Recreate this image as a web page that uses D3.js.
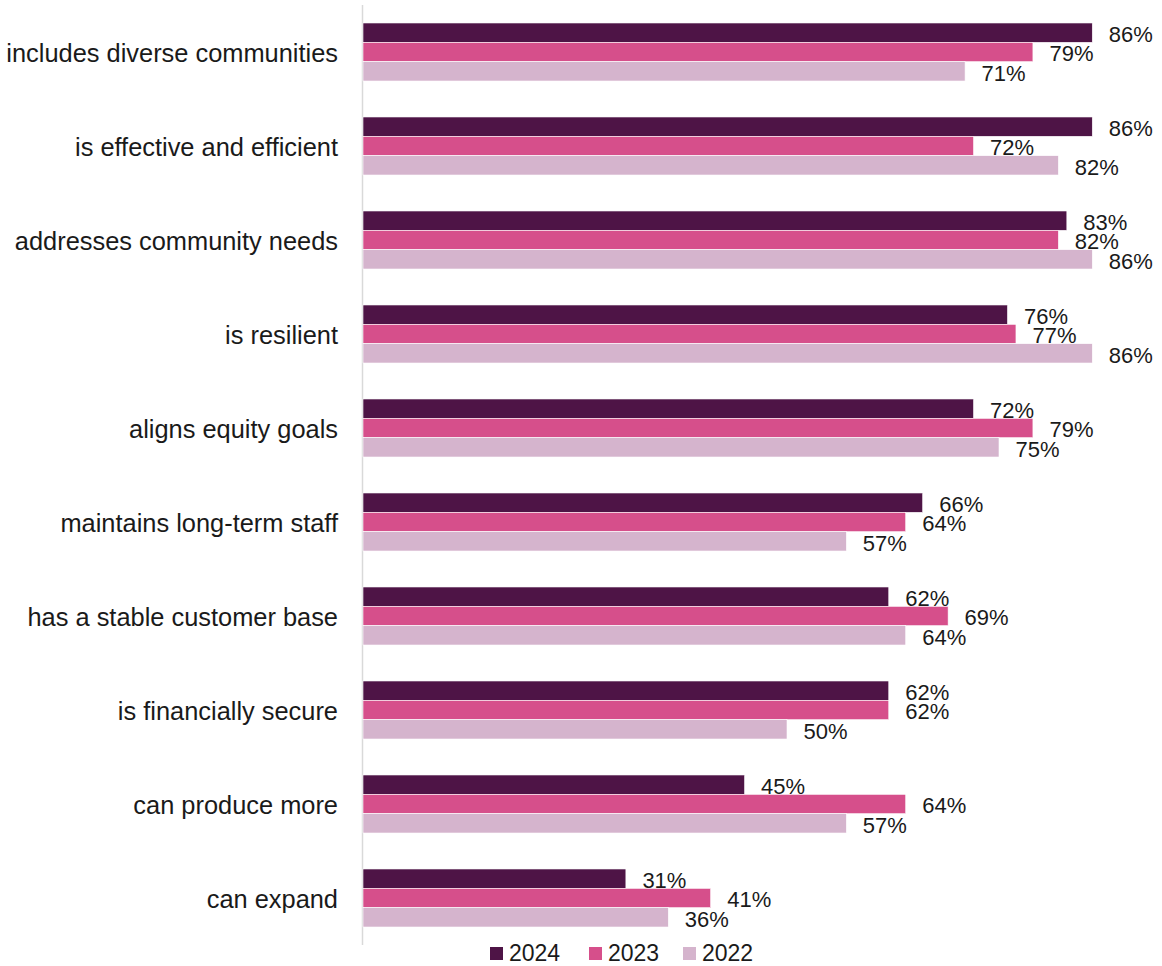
<!DOCTYPE html>
<html>
<head>
<meta charset="utf-8">
<script src="https://cdn.jsdelivr.net/npm/d3@7"></script>
<style>
  html, body { margin: 0; padding: 0; background: #fff; }
  svg { display: block; font-family: "Liberation Sans", Arial, sans-serif; }
</style>
</head>
<body>
<svg id="chart" width="1162" height="966"></svg>
<script>
// Share of respondents agreeing with each statement, by survey year
const categories = [
  "includes diverse communities",
  "is effective and efficient",
  "addresses community needs",
  "is resilient",
  "aligns equity goals",
  "maintains long-term staff",
  "has a stable customer base",
  "is financially secure",
  "can produce more",
  "can expand"
];
const years = ["2024", "2023", "2022"];
const values2024 = [86, 86, 83, 76, 72, 66, 62, 62, 45, 31];
const values2023 = [79, 72, 82, 77, 79, 64, 69, 62, 64, 41];
const values2022 = [71, 82, 86, 86, 75, 57, 64, 50, 57, 36];
const colors = ["#4e1446", "#d64f8b", "#d5b4cd"];

const seriesValues = { "2024": values2024, "2023": values2023, "2022": values2022 };
const rows = categories.map((c, i) => ({
  category: c,
  bars: years.map(y => ({ year: y, value: seriesValues[y][i] }))
}));

const svg = d3.select("#chart");
const x0 = 363;

const x = d3.scaleLinear().domain([0, 100]).range([x0, x0 + 848]);
const y = d3.scaleBand().domain(categories).range([5, 945]).padding(0);
const yInner = d3.scaleBand().domain(years).range([0, y.bandwidth()]).paddingOuter(0.93).paddingInner(0);
const color = d3.scaleOrdinal().domain(years).range(colors);

// vertical category axis line
svg.append("line")
  .attr("x1", x0 - 0.5).attr("x2", x0 - 0.5)
  .attr("y1", y.range()[0]).attr("y2", y.range()[1])
  .attr("stroke", "#d9d9d9").attr("stroke-width", 1.5);

const groups = svg.selectAll("g.group")
  .data(rows)
  .join("g")
  .attr("class", "group")
  .attr("transform", d => `translate(0,${y(d.category)})`);

groups.selectAll("rect")
  .data(d => d.bars)
  .join("rect")
  .attr("x", x(0))
  .attr("y", d => yInner(d.year))
  .attr("width", d => x(d.value) - x(0))
  .attr("height", yInner.bandwidth())
  .attr("fill", d => color(d.year))
  .attr("stroke", "#ffffff")
  .attr("stroke-width", 0.6);

groups.selectAll("text.value")
  .data(d => d.bars)
  .join("text")
  .attr("class", "value")
  .attr("x", d => x(d.value) + 16.5)
  .attr("y", d => yInner(d.year) + yInner.bandwidth() - 0.5)
  .attr("font-size", 22)
  .attr("fill", "#1a1a1a")
  .text(d => d.value + "%");

// category labels
groups.append("text")
  .attr("x", 338)
  .attr("y", y.bandwidth() / 2 + 9.5)
  .attr("text-anchor", "end")
  .attr("font-size", 25.4)
  .attr("fill", "#1a1a1a")
  .text(d => d.category);

// legend
const legendX = [490, 589, 683];
const legend = svg.selectAll("g.legend")
  .data(years)
  .join("g")
  .attr("class", "legend")
  .attr("transform", (d, i) => `translate(${legendX[i]},947)`);
legend.append("rect")
  .attr("width", 13).attr("height", 13)
  .attr("fill", d => color(d));
legend.append("text")
  .attr("x", 19).attr("y", 14)
  .attr("font-size", 23)
  .attr("fill", "#1a1a1a")
  .text(d => d);
</script>
</body>
</html>
